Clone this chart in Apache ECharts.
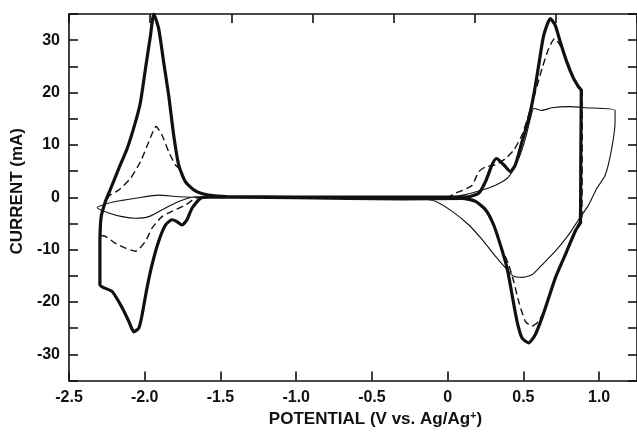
<!DOCTYPE html>
<html>
<head>
<meta charset="utf-8">
<script src="https://cdn.jsdelivr.net/npm/echarts@6/dist/echarts.min.js"></script>
<style>html,body{margin:0;padding:0;background:#fff;}#c{width:637px;height:433px;}</style>
</head>
<body>
<div id="c"></div>
<script>
// Potential (V vs. Ag/Ag+) and current (mA) pairs for each cycle
var thickCycle = [
  [-1.40,0.0],[-1.578,0.0],[-1.633,-0.2],[-1.688,-2.1],[-1.721,-4.3],[-1.754,-5.3],[-1.79,-4.6],[-1.82,-4.3],
  [-1.863,-5.3],[-1.908,-8.4],[-1.952,-12.9],[-1.985,-17.3],[-2.017,-22.4],[-2.039,-25.0],[-2.072,-25.7],
  [-2.105,-23.7],[-2.149,-21.1],[-2.215,-18.0],[-2.296,-16.7],[-2.296,-9.0],[-2.288,-3.8],[-2.262,-1.0],
  [-2.237,0.8],[-2.20,3.4],[-2.171,5.5],[-2.116,9.3],[-2.061,14.4],[-2.028,18.2],[-1.995,24.6],[-1.962,30.9],
  [-1.94,35.0],[-1.908,32.2],[-1.875,25.8],[-1.842,19.5],[-1.809,11.9],[-1.776,6.2],[-1.732,3.0],[-1.666,1.2],
  [-1.578,0.4],[-1.447,0.1],[-1.0,0.05],[0.0,0.05],[0.14,0.1],[0.206,0.8],[0.25,3.0],[0.293,6.2],[0.322,7.4],
  [0.37,6.2],[0.414,4.9],[0.447,6.2],[0.491,10.6],[0.535,15.0],[0.568,19.5],[0.601,25.2],[0.634,30.9],
  [0.678,34.1],[0.711,32.8],[0.743,29.7],[0.787,25.8],[0.831,22.7],[0.864,21.1],[0.882,20.4],[0.879,8.0],
  [0.876,-4.6],[0.842,-6.5],[0.776,-11.0],[0.711,-15.4],[0.667,-19.2],[0.623,-23.0],[0.579,-26.2],[0.535,-27.8],
  [0.491,-26.9],[0.458,-23.7],[0.425,-18.6],[0.392,-13.5],[0.348,-9.1],[0.304,-5.3],[0.25,-2.4],[0.184,-0.8],
  [0.096,-0.2],[-0.3,-0.3],[-1.0,-0.1],[-1.40,0.0]
];
var dashedCycle = [
  [-1.40,0.0],[-1.60,0.0],[-1.666,-0.2],[-1.732,-1.5],[-1.82,-2.7],[-1.886,-3.7],[-1.952,-5.9],[-1.995,-8.4],
  [-2.061,-10.3],[-2.127,-9.7],[-2.193,-8.8],[-2.258,-7.5],[-2.29,-7.2],[-2.286,-4.0],[-2.27,-2.0],[-2.237,0.2],
  [-2.171,1.4],[-2.094,3.6],[-2.028,6.8],[-1.973,10.6],[-1.925,13.5],[-1.886,11.9],[-1.842,8.7],[-1.798,6.2],
  [-1.776,5.6],[-1.732,3.0],[-1.666,1.2],[-1.578,0.4],[-1.45,0.1],[0.0,0.05],[0.052,0.8],[0.10,1.3],[0.162,2.3],
  [0.206,4.9],[0.25,5.8],[0.316,6.2],[0.382,7.4],[0.436,9.0],[0.491,11.9],[0.535,15.7],[0.579,20.1],[0.623,24.6],
  [0.667,28.4],[0.706,30.3],[0.743,29.0],[0.787,25.8],[0.831,22.7],[0.864,21.1],[0.888,20.4],[0.886,-4.6],
  [0.842,-6.5],[0.776,-11.0],[0.711,-15.4],[0.667,-19.2],[0.623,-22.5],[0.60,-23.7],[0.557,-24.6],[0.513,-23.7],
  [0.469,-19.9],[0.436,-16.1],[0.403,-12.9],[0.348,-9.1],[0.304,-5.3],[0.25,-2.4],[0.184,-0.8],[0.10,-0.2],[-1.40,0.0]
];
var thinCycle = [
  [-1.40,0.0],[-1.666,0.1],[-1.776,-0.8],[-1.886,-2.4],[-1.973,-3.7],[-2.061,-4.0],[-2.149,-3.7],[-2.237,-3.0],
  [-2.314,-2.0],[-2.237,-1.1],[-2.15,-0.6],[-2.061,-0.2],[-1.908,0.4],[-1.776,0.1],[-1.60,0.0],[0.0,0.0],
  [0.10,0.4],[0.206,1.2],[0.316,2.3],[0.403,3.9],[0.469,7.4],[0.513,11.2],[0.546,15.0],[0.568,17.0],[0.60,16.7],
  [0.623,16.6],[0.689,17.1],[0.798,17.3],[0.908,17.1],[1.105,16.6],[1.105,14.4],[1.083,9.3],[1.04,4.2],
  [0.985,1.7],[0.93,-1.5],[0.864,-4.3],[0.798,-7.2],[0.711,-10.3],[0.623,-12.9],[0.557,-14.8],[0.491,-15.3],
  [0.436,-15.1],[0.382,-13.5],[0.316,-11.3],[0.228,-8.1],[0.14,-5.3],[0.03,-2.7],[-0.079,-0.8],[-0.19,-0.2],
  [-0.30,0.0],[-1.40,0.0]
];
var xTickLabels = ['-2.5','-2.0','-1.5','-1.0','-0.5','0','0.5','1.0'];
var yTickLabels = ['-30','-20','-10','0','10','20','30'];

var chart = echarts.init(document.getElementById('c'), null, {renderer:'canvas'});
var F = 'Liberation Sans';
var lineAx = {onZero:false, lineStyle:{color:'#111', width:1.6}};
var tickIn = {show:true, inside:true, length:9, lineStyle:{color:'#111', width:1.6}};
function xFmt(v){
  var s = (Math.abs(v) < 1e-9) ? '0' : v.toFixed(1);
  return xTickLabels.indexOf(s) >= 0 ? s : '';
}
function yFmt(v){
  var s = String(Math.round(v));
  return (Math.round(v) % 10 === 0 && yTickLabels.indexOf(s) >= 0) ? s : '';
}
chart.setOption({
  animation:false,
  backgroundColor:'#fff',
  grid:{left:69, top:14, right:-1, bottom:51, containLabel:false},
  xAxis:[{
    type:'value', min:-2.5, max:1.25, interval:0.5, position:'bottom',
    axisLine:lineAx, axisTick:tickIn, splitLine:{show:false},
    axisLabel:{formatter:xFmt, margin:9, color:'#111', fontFamily:F, fontWeight:'bold', fontSize:16, showMaxLabel:false},
    name:'POTENTIAL (V vs. Ag/Ag{sup|+})', nameLocation:'middle', nameGap:30,
    nameTextStyle:{color:'#111', fontFamily:F, fontWeight:'bold', fontSize:17, padding:[0,0,0,45],
      rich:{sup:{fontSize:11, fontFamily:F, fontWeight:'bold', color:'#111', verticalAlign:'top', padding:[0,0,7,0]}}}
  },{
    type:'value', min:0, max:7, interval:1, position:'top',
    axisLine:lineAx, axisTick:tickIn, axisLabel:{show:false}, splitLine:{show:false}
  }],
  yAxis:[{
    type:'value', min:-35, max:35, interval:5, position:'left',
    axisLine:lineAx, axisTick:tickIn, splitLine:{show:false},
    axisLabel:{formatter:yFmt, margin:9, color:'#111', fontFamily:F, fontWeight:'bold', fontSize:16},
    name:'CURRENT (mA)', nameLocation:'middle', nameGap:38,
    nameTextStyle:{color:'#111', fontFamily:F, fontWeight:'bold', fontSize:17, padding:[0,0,0,12]}
  },{
    type:'value', min:-35, max:35, interval:5, position:'right',
    axisLine:lineAx, axisTick:tickIn, axisLabel:{show:false}, splitLine:{show:false}
  }],
  series:[
    {type:'line', xAxisIndex:0, yAxisIndex:0, data:thinCycle, showSymbol:false, smooth:0.2,
      lineStyle:{color:'#111', width:1.1}, z:2},
    {type:'line', xAxisIndex:0, yAxisIndex:0, data:dashedCycle, showSymbol:false, smooth:0.2,
      lineStyle:{color:'#111', width:1.4, type:[7,4]}, z:3},
    {type:'line', xAxisIndex:0, yAxisIndex:0, data:thickCycle, showSymbol:false, smooth:0.2,
      lineStyle:{color:'#111', width:3.2, join:'round', cap:'round'}, z:4}
  ]
});
</script>
</body>
</html>
